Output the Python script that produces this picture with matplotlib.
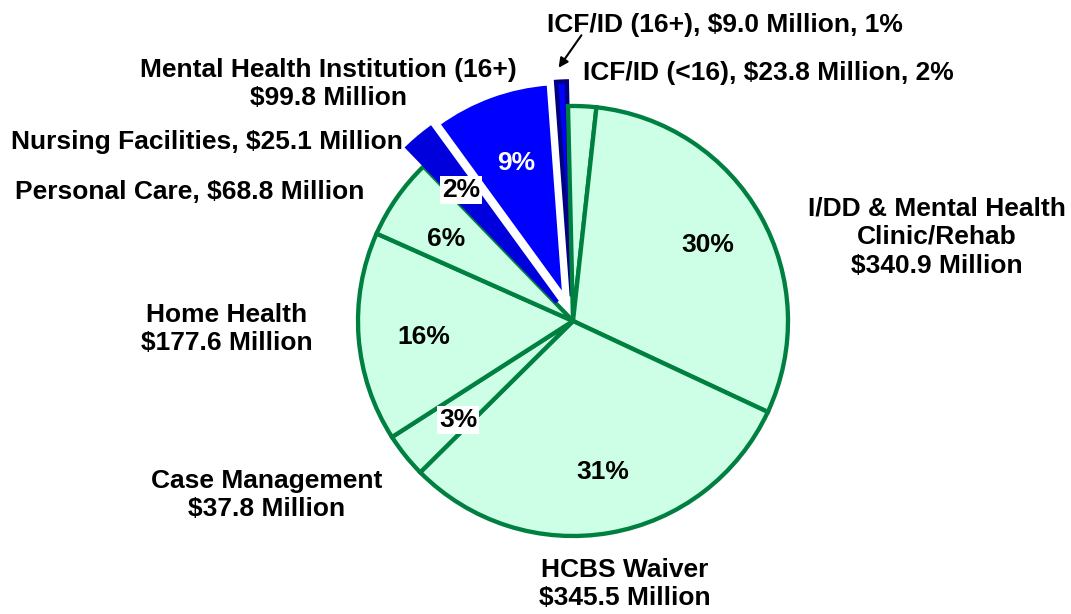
import matplotlib
matplotlib.use('Agg')
import matplotlib.pyplot as plt

# spending by category, $ million (clockwise from the top)
names = ['ICF/ID (16+)', 'ICF/ID (<16)', 'I/DD & Mental Health\nClinic/Rehab', 'HCBS Waiver',
         'Case Management', 'Home Health', 'Personal Care', 'Nursing Facilities',
         'Mental Health Institution (16+)']
millions = [9.0, 23.8, 340.9, 345.5, 37.8, 177.6, 68.8, 25.1, 99.8]

plt.rcParams['font.family'] = ['Liberation Sans', 'DejaVu Sans']
plt.rcParams['font.weight'] = 'bold'

W, H = 1071, 614
fig = plt.figure(figsize=(W / 100, H / 100), dpi=100)
ax = fig.add_axes([0, 0, 1, 1])

green = '#CCFFE5'
dkgreen = '#008040'
fills = ['#0000FF', green, green, green, green, green, green, '#0000DD', '#0000FF']
edges = ['#000080', dkgreen, dkgreen, dkgreen, dkgreen, dkgreen, dkgreen, '#0000DD', 'white']

cx, cy, r = 573, H - 321, 215
# pie explode is in data units here because the radius is in pixels
explode = [0.115 * r if c != green else 0 for c in fills]
wedges, _ = ax.pie(millions, colors=fills, explode=explode, startangle=94.2,
                   counterclock=False, center=(cx, cy), radius=r, frame=True)
for w, e in zip(wedges, edges):
    w.set_edgecolor(e)
    w.set_linewidth(3.1)
    w.set_joinstyle('miter')

ax.set_xlim(0, W)
ax.set_ylim(0, H)
ax.set_aspect('equal')
ax.axis('off')

fs = 19
total = sum(millions)
pct = ['%d%%' % round(v / total * 100) for v in millions]

# category labels
def lab(x, y, s, **kw):
    ax.text(x, H - y, s, ha='center', va='center', fontsize=fs, fontweight='bold',
            linespacing=1.25, **kw)

lab(725, 25, '%s, $%.1f Million, %s' % (names[0], millions[0], pct[0]))
lab(768, 73, '%s, $%.1f Million, %s' % (names[1], millions[1], pct[1]))
lab(937, 237, '%s\n$%.1f Million' % (names[2], millions[2]))
lab(625, 584, '%s\n$%.1f Million' % (names[3], millions[3]))
lab(267, 495, '%s\n$%.1f Million' % (names[4], millions[4]))
lab(227, 329, '%s\n$%.1f Million' % (names[5], millions[5]))
lab(190, 192, '%s, $%.1f Million' % (names[6], millions[6]))
lab(207, 142, '%s, $%.1f Million' % (names[7], millions[7]))
lab(328, 84, '%s\n$%.1f Million' % (names[8], millions[8]))

ax.annotate('', xy=(557, H - 70), xytext=(583, H - 33),
            arrowprops=dict(arrowstyle='-|>', color='black', lw=1.5, mutation_scale=14))

# percentage labels inside the wedges
pos = {2: (708, 245), 3: (603, 472), 4: (458, 420), 5: (424, 337), 6: (446, 239),
       7: (461, 190), 8: (516, 163)}
boxed = {4, 7}
for i, (x, y) in pos.items():
    kw = {}
    if i in boxed:
        kw['bbox'] = dict(facecolor='white', edgecolor='none', pad=1.5)
    ax.text(x, H - y, pct[i], ha='center', va='center', fontsize=fs, fontweight='bold',
            color='white' if i == 8 else 'black', **kw)

fig.savefig('out.png', dpi=100)
